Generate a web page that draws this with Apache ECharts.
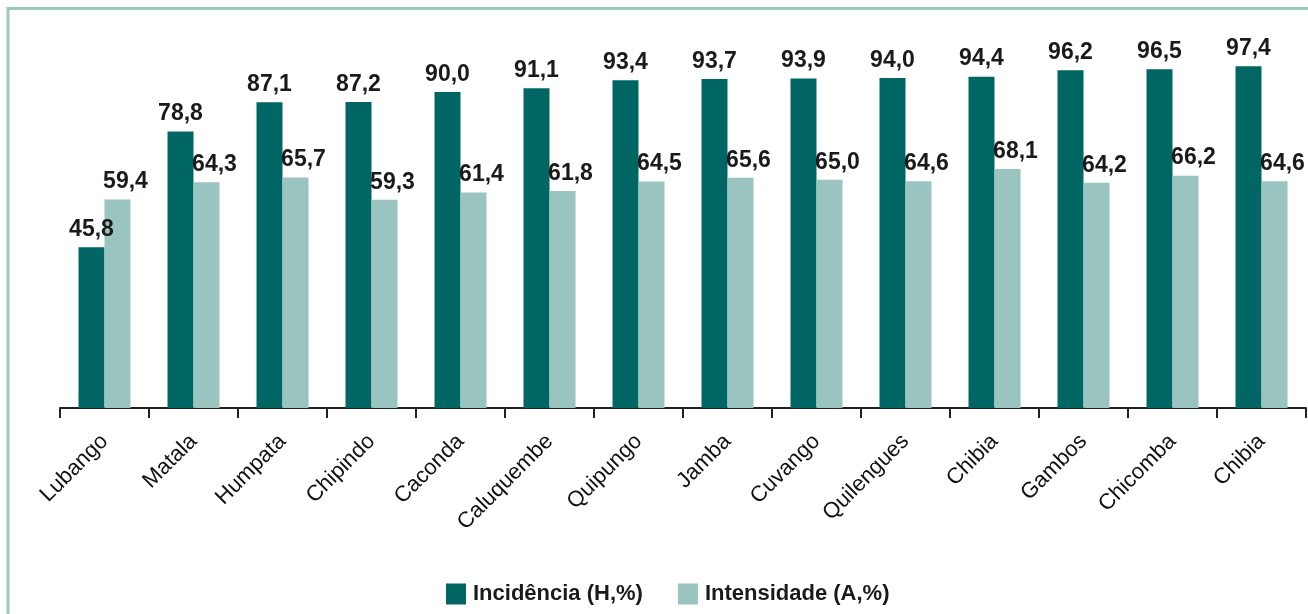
<!DOCTYPE html>
<html>
<head>
<meta charset="utf-8">
<script src="https://cdn.jsdelivr.net/npm/echarts@6/dist/echarts.min.js"></script>
<style>
html,body{margin:0;padding:0;background:#fff;}
#chart{width:1308px;height:614px;}
</style>
</head>
<body>
<div id="chart"></div>
<script>
const categories = ['Lubango','Matala','Humpata','Chipindo','Caconda','Caluquembe','Quipungo','Jamba','Cuvango','Quilengues','Chibia','Gambos','Chicomba','Chibia'];
const incidencia = [45.8,78.8,87.1,87.2,90.0,91.1,93.4,93.7,93.9,94.0,94.4,96.2,96.5,97.4];
const intensidade = [59.4,64.3,65.7,59.3,61.4,61.8,64.5,65.6,65.0,64.6,68.1,64.2,66.2,64.6];
const seriesNames = ['Incidência (H,%)','Intensidade (A,%)'];

const NARROW = '"Liberation Sans Narrow", "Arial Narrow", sans-serif';
const chart = echarts.init(document.getElementById('chart'));
const fmt = p => p.value.toFixed(1).replace('.', ',');
const labelStyle = {
  show: true, position: 'top', distance: 6, formatter: fmt,
  fontFamily: NARROW, fontWeight: 'bold', fontSize: 23, color: '#1a1a1a'
};
chart.setOption({
  animation: false,
  backgroundColor: '#fff',
  graphic: [
    { type: 'polyline', shape: { points: [[8, 700], [8, 8.5], [1400, 8.5]] },
      style: { stroke: '#9cc8c2', lineWidth: 3, fill: null } }
  ],
  legend: {
    left: 441, top: 578,
    itemWidth: 20, itemHeight: 21, itemGap: 35,
    icon: 'rect',
    textStyle: { fontFamily: 'Liberation Sans', fontWeight: 'bold', fontSize: 22, color: '#1a1a1a', padding: [0, 0, 0, 2] },
    data: seriesNames
  },
  grid: { left: 60, right: 2, top: 57, bottom: 206 },
  xAxis: {
    type: 'category', data: categories,
    axisLine: { lineStyle: { color: '#222', width: 2 } },
    axisTick: { show: true, length: 10, lineStyle: { color: '#222', width: 2 } },
    axisLabel: { rotate: 45, margin: 30, fontFamily: NARROW, fontSize: 22, color: '#111', interval: 0 }
  },
  yAxis: { type: 'value', min: 0, max: 100, show: false, splitLine: { show: false } },
  series: [
    { name: seriesNames[0], type: 'bar', data: incidencia, barWidth: 26, barGap: '0%',
      itemStyle: { color: '#006663' }, label: labelStyle },
    { name: seriesNames[1], type: 'bar', data: intensidade, barWidth: 26,
      itemStyle: { color: '#99c4bf' }, label: Object.assign({}, labelStyle, { offset: [8, 0] }) }
  ]
});
</script>
</body>
</html>
